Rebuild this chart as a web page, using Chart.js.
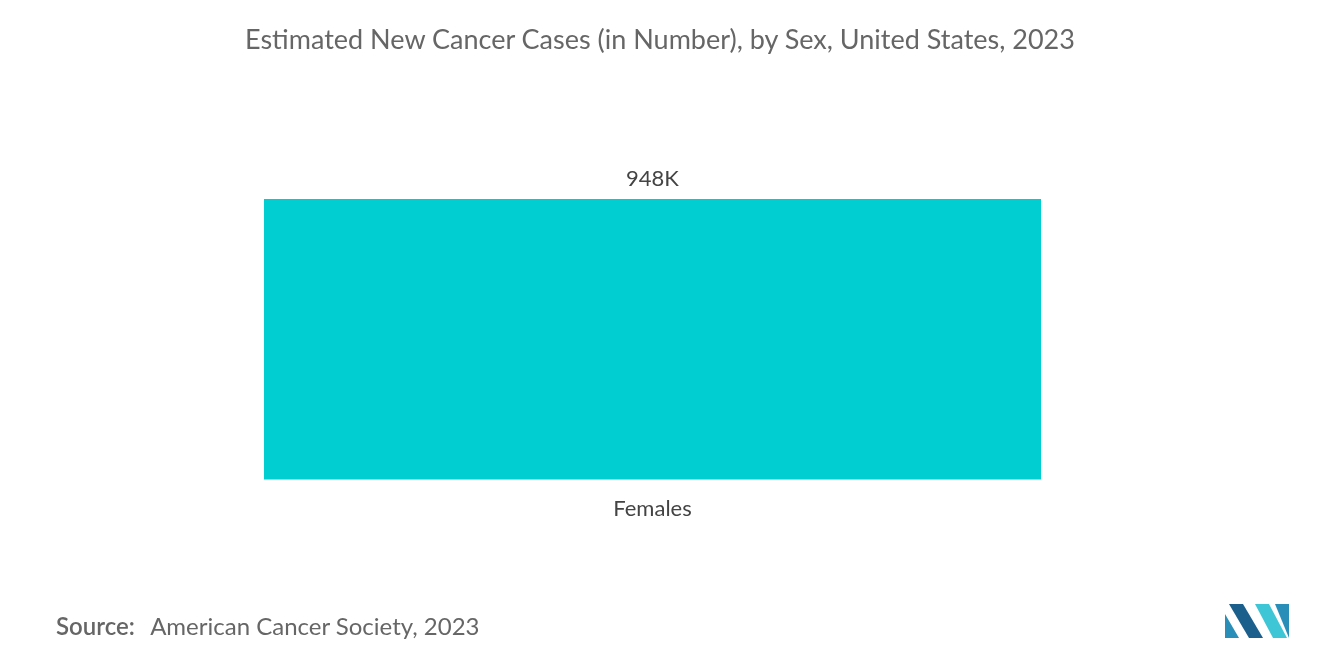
<!DOCTYPE html>
<html><head><meta charset="utf-8">
<script src="https://cdn.jsdelivr.net/npm/chart.js@4/dist/chart.umd.min.js"></script>
<style>
html,body{margin:0;padding:0;background:#fff;}
#wrap{position:relative;width:1320px;height:665px;font-family:Lato,"Open Sans",sans-serif;}
#title{position:absolute;top:22px;left:0;width:1320px;text-align:center;font-size:27px;color:#666;}
#source{position:absolute;top:611px;left:56px;font-size:24px;color:#666;}
#source b{font-weight:600;margin-right:10px;}
canvas{position:absolute;left:0;top:0;}
</style></head>
<body><div id="wrap">
<canvas id="c" width="1320" height="665"></canvas>
<div id="title">Estimated New Cancer Cases (in Number), by Sex, United States, 2023</div>
<div id="source"><b>Source:</b> American Cancer Society, 2023</div>
</div>
<script>
const categories = ["Females"];
const values = [948];
const valueLabels = ["948K"];

const labelPlugin = {
  id:'lbl',
  afterDatasetsDraw(chart){
    const ctx = chart.ctx;
    chart.getDatasetMeta(0).data.forEach((bar,i)=>{
      ctx.save();
      ctx.font = '22px Lato, "Open Sans", sans-serif';
      ctx.fillStyle = '#444';
      ctx.textAlign = 'center';
      ctx.textBaseline = 'bottom';
      ctx.fillText(valueLabels[i], bar.x, bar.y - 9);
      ctx.restore();
    });
  },
  afterDraw(chart){
    const ctx = chart.ctx;
    ctx.save();
    const x=1225,y=604,h=34;
    ctx.fillStyle='#2a8fb8';
    ctx.beginPath();ctx.moveTo(x,y+h);ctx.lineTo(x,y+10);ctx.lineTo(x+14,y+h);ctx.closePath();ctx.fill();
    ctx.fillStyle='#1b5f8c';
    ctx.beginPath();ctx.moveTo(x+4,y);ctx.lineTo(x+18,y);ctx.lineTo(x+38,y+h);ctx.lineTo(x+24,y+h);ctx.closePath();ctx.fill();
    ctx.fillStyle='#3ec6d6';
    ctx.beginPath();ctx.moveTo(x+30,y);ctx.lineTo(x+44,y);ctx.lineTo(x+62,y+h);ctx.lineTo(x+48,y+h);ctx.closePath();ctx.fill();
    ctx.fillStyle='#2a8fb8';
    ctx.beginPath();ctx.moveTo(x+50,y);ctx.lineTo(x+64,y);ctx.lineTo(x+64,y+h);ctx.closePath();ctx.fill();
    ctx.restore();
  }
};

new Chart(document.getElementById('c'), {
  type:'bar',
  data:{labels:categories, datasets:[{data:values, backgroundColor:'#00ced1', barPercentage:1, categoryPercentage:1}]},
  options:{
    responsive:false, animation:false,
    layout:{padding:{left:264,right:279,top:199,bottom:135}},
    plugins:{legend:{display:false},tooltip:{enabled:false}},
    scales:{
      y:{display:false,min:0,max:948},
      x:{grid:{display:false},border:{display:false},
         ticks:{padding:8,color:'#444',font:{size:22,family:'Lato, "Open Sans", sans-serif'}}}
    }
  },
  plugins:[labelPlugin]
});
</script>
</body></html>
